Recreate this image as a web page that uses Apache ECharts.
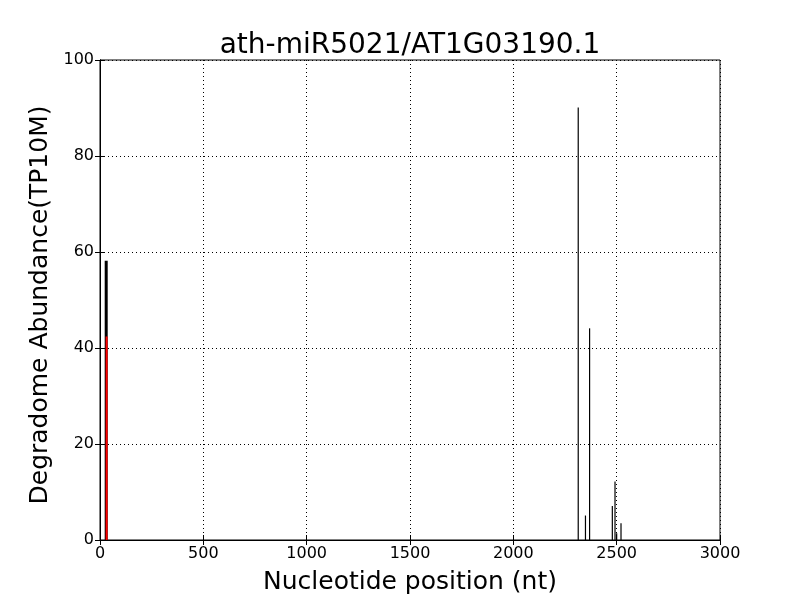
<!DOCTYPE html>
<html>
<head>
<meta charset="utf-8">
<script src="https://cdn.jsdelivr.net/npm/echarts@6/dist/echarts.min.js"></script>
<style>html,body{margin:0;padding:0;background:#fff}#c{width:800px;height:600px}</style>
</head>
<body>
<div id="c"></div>
<script>
var titleText = 'ath-miR5021/AT1G03190.1';
var xTicks = [0, 500, 1000, 1500, 2000, 2500, 3000];
var yTicks = [0, 20, 40, 60, 80, 100];
// black degradome peaks: [position, abundance]
var blackPositions = [30, 2314, 2349, 2369, 2479, 2492, 2500, 2521];
var blackValues    = [58.2, 90.1, 5.1, 44.1, 7.1, 12.2, 1.4, 3.5];
// red (target site) peak
var redPositions = [32];
var redValues    = [42.4];

function pairs(xs, ys){ return xs.map(function(x,i){ return [x, ys[i]]; }); }

function lineSeries(data, color, widthFn){
  return {
    type: 'custom',
    coordinateSystem: 'cartesian2d',
    data: data,
    clip: true,
    renderItem: function(params, api){
      var x = api.value(0), y = api.value(1);
      var p0 = api.coord([x, 0]), p1 = api.coord([x, y]);
      var w = widthFn(params.dataIndex);
      return {
        type: 'rect',
        shape: {x: p0[0] - w/2, y: p1[1], width: w, height: p0[1] - p1[1]},
        style: {fill: color}
      };
    }
  };
}

var chart = echarts.init(document.getElementById('c'), null, {renderer: 'canvas'});
var font = 'DejaVu Sans';
var tickStyle = {show: true, inside: true, length: 5, lineStyle: {color: '#000', width: 1}};
var plain = function(v){ return String(v); };
chart.setOption({
  backgroundColor: '#fff',
  animation: false,
  title: {
    text: titleText, left: 405, textAlign: 'center', top: 27,
    textStyle: {fontFamily: font, fontSize: 28, fontWeight: 'normal', color: '#000'}
  },
  grid: {left: 100, right: 80, top: 60, bottom: 60, show: true, borderColor: '#000', borderWidth: 1},
  xAxis: [{
    type: 'value', min: 0, max: 3000, interval: 500,
    name: 'Nucleotide position (nt)', nameLocation: 'middle', nameGap: 30,
    nameTextStyle: {fontFamily: font, fontSize: 25, color: '#000'},
    axisLine: {show: true, lineStyle: {color: '#000'}},
    axisTick: tickStyle,
    axisLabel: {fontFamily: font, fontSize: 16, color: '#000', margin: 6, formatter: plain},
    splitLine: {show: true, lineStyle: {color: '#000', type: [1, 3], width: 1}}
  }, {
    type: 'value', min: 0, max: 3000, interval: 500, position: 'top',
    axisLine: {show: true, lineStyle: {color: '#000'}},
    axisTick: tickStyle, axisLabel: {show: false}, splitLine: {show: false}
  }],
  yAxis: [{
    type: 'value', min: 0, max: 100, interval: 20,
    name: 'Degradome Abundance(TP10M)', nameLocation: 'middle', nameGap: 41,
    nameTextStyle: {fontFamily: font, fontSize: 25, color: '#000', padding: [0, 10, 0, 0]},
    axisLine: {show: true, lineStyle: {color: '#000'}},
    axisTick: tickStyle,
    axisLabel: {fontFamily: font, fontSize: 16, color: '#000', margin: 6, formatter: plain},
    splitLine: {show: true, lineStyle: {color: '#000', type: [1, 3], width: 1}}
  }, {
    type: 'value', min: 0, max: 100, interval: 20, position: 'right',
    axisLine: {show: true, lineStyle: {color: '#000'}},
    axisTick: tickStyle, axisLabel: {show: false}, splitLine: {show: false}
  }],
  series: [
    lineSeries(pairs(blackPositions, blackValues), '#000', function(i){ return i === 0 ? 3 : 1.2; }),
    lineSeries(pairs(redPositions, redValues), '#ff0000', function(){ return 2; })
  ]
});
</script>
</body>
</html>
